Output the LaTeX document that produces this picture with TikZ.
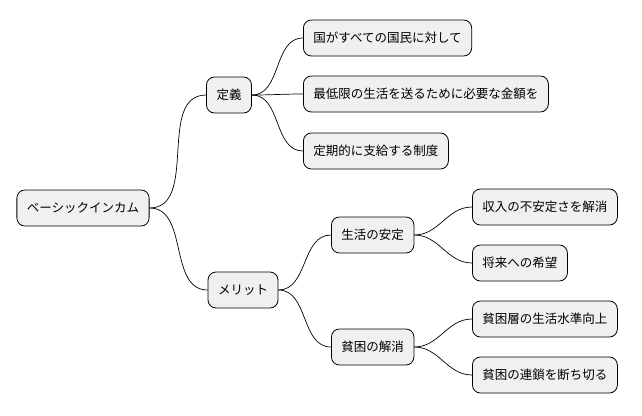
\documentclass[tikz,border=0pt]{standalone}
\usepackage{fontspec}
\setmainfont{Noto Sans CJK JP}
\begin{document}
\begin{tikzpicture}
    [ x=1pt, y=-1pt
    , topic/.style={draw, fill=black!6, rounded corners=8pt, minimum height=36pt,
        inner xsep=10pt, font=\fontsize{12.5}{14}\selectfont, line width=0.8pt}
    , link/.style={draw, line width=0.7pt}
    ]
\useasboundingbox (0,0) rectangle (642,415);
\node[topic] (root) at (83,208) {ベーシックインカム};
\node[topic] (teigi) at (229,95) {定義};
\node[topic] (merit) at (243,290) {メリット};
\node[topic, anchor=west] (kuni) at (303,38) {国がすべての国民に対して};
\node[topic, anchor=west] (saitei) at (303,94) {最低限の生活を送るために必要な金額を};
\node[topic, anchor=west] (teiki) at (303,151) {定期的に支給する制度};
\node[topic, anchor=west] (antei) at (331,235) {生活の安定};
\node[topic, anchor=west] (kaisho) at (331,347) {貧困の解消};
\node[topic, anchor=west] (shunyu) at (472,207) {収入の不安定さを解消};
\node[topic, anchor=west] (kibo) at (472,263) {将来への希望};
\node[topic, anchor=west] (hinkon) at (472,319) {貧困層の生活水準向上};
\node[topic, anchor=west] (rensa) at (472,375) {貧困の連鎖を断ち切る};
% connectors
\foreach \a/\b in {root/teigi, root/merit, teigi/kuni, teigi/saitei, teigi/teiki,
    merit/antei, merit/kaisho, antei/shunyu, antei/kibo, kaisho/hinkon, kaisho/rensa}
  \path[link] (\a.east) to[out=0, in=180] (\b.west);
\end{tikzpicture}
\end{document}
